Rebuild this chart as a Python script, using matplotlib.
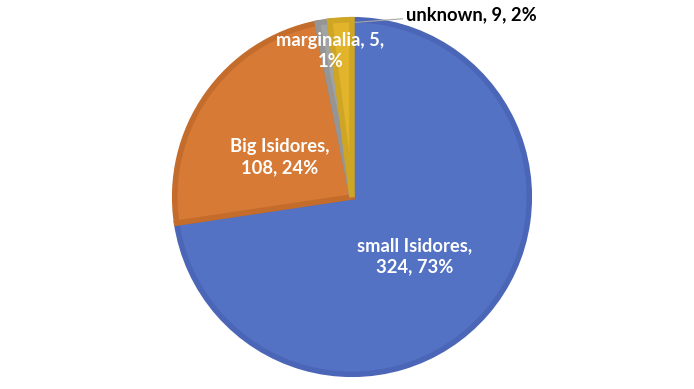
import matplotlib
matplotlib.use("Agg")
from matplotlib import pyplot as plt

categories = ["small Isidores", "Big Isidores", "marginalia", "unknown"]
counts = [324, 108, 5, 9]
colors = ["#5472C4", "#D67A35", "#A3A3A3", "#E1B42C"]
edges = ["#4B66B6", "#C46C2B", "#959595", "#CFA524"]

plt.rcParams['font.family'] = ['Lato', 'DejaVu Sans']

fig = plt.figure(figsize=(6.94, 3.89), dpi=100)
# pie centre ~ (352,197) px, radius ~180 px
ax = fig.add_axes([(352 - 180) / 694, (389 - 197 - 180) / 389, 360 / 694, 360 / 389])

wedges, _ = ax.pie(counts, colors=colors, startangle=90, counterclock=False,
                   radius=0.985, wedgeprops=dict(linewidth=0))
# darker bevel rim
for w, ec in zip(wedges, edges):
    w.set_edgecolor(ec)
    w.set_linewidth(4)
    w.set_joinstyle("miter")

ax.set_xlim(-1, 1)
ax.set_ylim(-1, 1)
ax.set_aspect("equal")
ax.axis("off")

total = sum(counts)
pct = [round(100 * c / total) for c in counts]

fs = 13.2
ax.text(0.35, -0.33, "{},\n{}, {}%".format(categories[0], counts[0], pct[0]),
        color="white", fontsize=fs, fontweight="bold", ha="center", va="center",
        linespacing=1.3)
ax.text(-0.40, 0.22, "{},\n{}, {}%".format(categories[1], counts[1], pct[1]),
        color="white", fontsize=fs, fontweight="bold", ha="center", va="center",
        linespacing=1.3)
ax.text(-0.12, 0.81, "{}, {},\n{}%".format(categories[2], counts[2], pct[2]),
        color="white", fontsize=fs, fontweight="bold", ha="center", va="center",
        linespacing=1.3)
ax.text(0.30, 1.015, "{}, {}, {}%".format(categories[3], counts[3], pct[3]),
        color="black", fontsize=fs, fontweight="bold", ha="left", va="center",
        clip_on=False)
ax.plot([0.017, 0.28], [0.97, 0.99], color="#A6A6A6", linewidth=0.8, clip_on=False)

fig.savefig("out.png", dpi=100)
